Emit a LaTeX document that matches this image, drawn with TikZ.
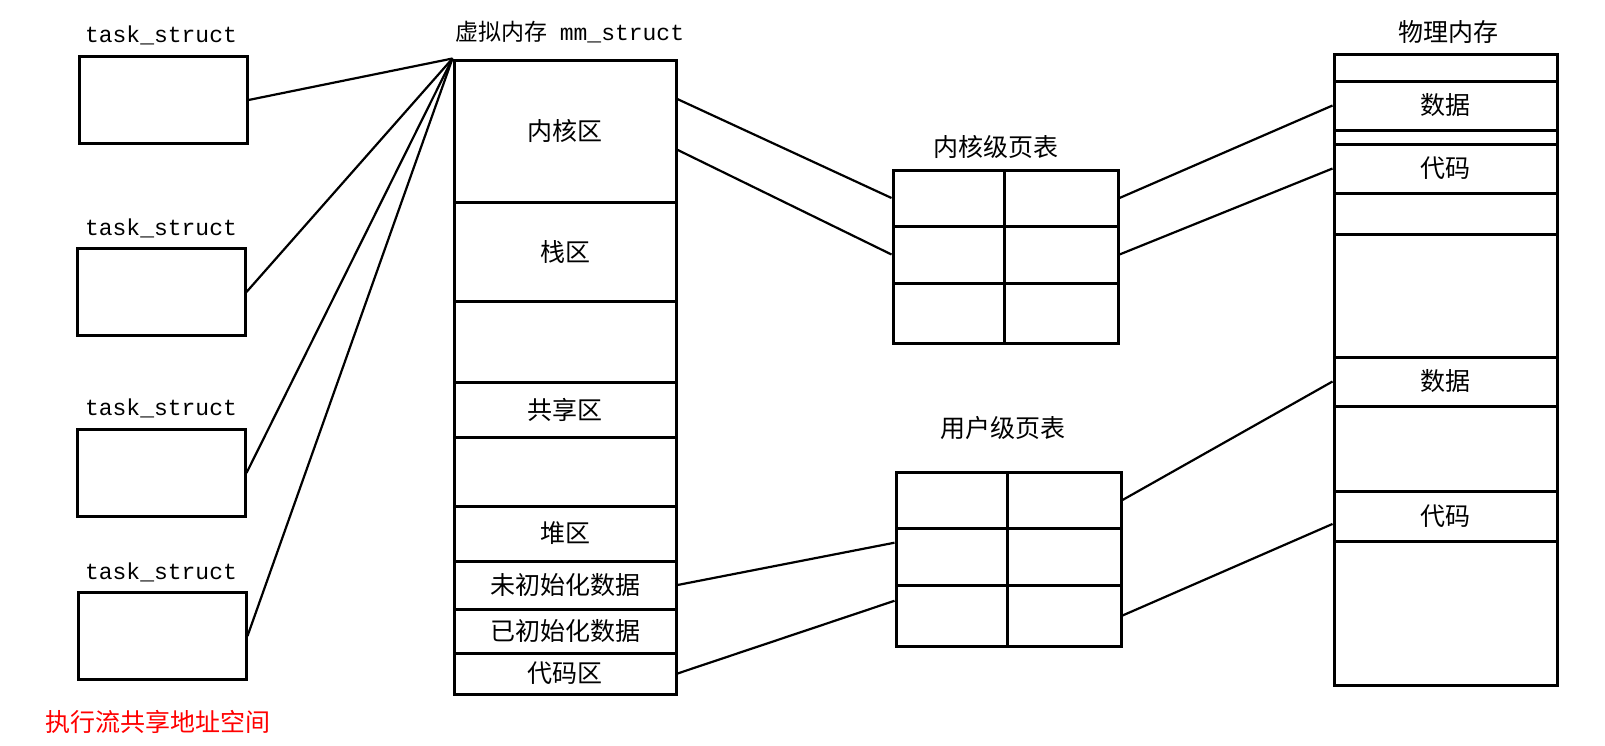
\documentclass[tikz,border=0pt]{standalone}
\usepackage{fontspec}
\setmonofont{Liberation Mono}
\newfontfamily\cjk{Noto Sans CJK SC}
\usepackage{tikz}
\usetikzlibrary{calc}
\newcommand{\tsname}{task\_struct}

\tikzset{
  cell/.style={draw, line width=3pt, inner sep=0pt, font=\cjk\fontsize{25}{25}\selectfont},
  vcell/.style={cell, minimum width=222pt},
  pcell/.style={cell, minimum width=223pt},
  tbox/.style={cell, minimum width=168pt, minimum height=87pt},
  ttl/.style={font=\fontsize{23}{23}\selectfont\ttfamily},
  head/.style={font=\cjk\fontsize{25}{25}\selectfont}
}

\begin{document}
\begin{tikzpicture}[x=1pt, y=-1pt]
  \useasboundingbox (0,0) rectangle (1605,745);

  % task_struct boxes
  \node[ttl] (l1) at (161,35) {\tsname};
  \node[tbox] (t1) at (163,100) {};
  \node[ttl] (l2) at (161,228) {\tsname};
  \node[tbox] (t2) at (161,292) {};
  \node[ttl] (l3) at (161,408) {\tsname};
  \node[tbox] (t3) at (161,473) {};
  \node[ttl] (l4) at (161,572) {\tsname};
  \node[tbox] (t4) at (162,636) {};
  \node[head, text=red] (note) at (158,722) {执行流共享地址空间};

  % virtual memory
  \node[font=\fontsize{23}{23}\selectfont] (vt) at (570,32) {{\cjk 虚拟内存}\hspace{12pt}{\ttfamily mm\_struct}};
  \node[vcell, minimum height=142pt] (va1) at (565,131) {内核区};
  \node[vcell, minimum height=99pt] (va2) at (565,251.5) {栈区};
  \node[vcell, minimum height=81pt] (va3) at (565,341.5) {};
  \node[vcell, minimum height=55pt] (va4) at (565,409.5) {共享区};
  \node[vcell, minimum height=69pt] (va5) at (565,471.5) {};
  \node[vcell, minimum height=55pt] (va6) at (565,533.5) {堆区};
  \node[vcell, minimum height=48pt] (va7) at (565,585) {未初始化数据};
  \node[vcell, minimum height=44pt] (va8) at (565,631) {已初始化数据};
  \node[vcell, minimum height=41pt] (va9) at (565,673.5) {代码区};

  % kernel page table
  \node[head] (kt) at (996,147) {内核级页表};
  \node[cell, minimum width=111pt, minimum height=56pt] (k11) at (948.5,198) {};
  \node[cell, minimum width=114pt, minimum height=56pt] (k12) at (1061,198) {};
  \node[cell, minimum width=111pt, minimum height=57pt] (k21) at (948.5,254.5) {};
  \node[cell, minimum width=114pt, minimum height=57pt] (k22) at (1061,254.5) {};
  \node[cell, minimum width=111pt, minimum height=60pt] (k31) at (948.5,313) {};
  \node[cell, minimum width=114pt, minimum height=60pt] (k32) at (1061,313) {};

  % user page table
  \node[head] (ut) at (1003,428) {用户级页表};
  \node[cell, minimum width=111pt, minimum height=56pt] (u11) at (951.5,500) {};
  \node[cell, minimum width=114pt, minimum height=56pt] (u12) at (1064,500) {};
  \node[cell, minimum width=111pt, minimum height=57pt] (u21) at (951.5,556.5) {};
  \node[cell, minimum width=114pt, minimum height=57pt] (u22) at (1064,556.5) {};
  \node[cell, minimum width=111pt, minimum height=61pt] (u31) at (951.5,615.5) {};
  \node[cell, minimum width=114pt, minimum height=61pt] (u32) at (1064,615.5) {};

  % physical memory
  \node[head] (pt) at (1448,32) {物理内存};
  \node[pcell, minimum height=27pt] (p1) at (1445.5,67.5) {};
  \node[pcell, minimum height=49pt] (p2) at (1445.5,105.5) {数据};
  \node[pcell, minimum height=14pt] (p3) at (1445.5,137) {};
  \node[pcell, minimum height=49pt] (p4) at (1445.5,168.5) {代码};
  \node[pcell, minimum height=41pt] (p5) at (1445.5,213.5) {};
  \node[pcell, minimum height=123pt] (p6) at (1445.5,295.5) {};
  \node[pcell, minimum height=49pt] (p7) at (1445.5,381.5) {数据};
  \node[pcell, minimum height=85pt] (p8) at (1445.5,448.5) {};
  \node[pcell, minimum height=50pt] (p9) at (1445.5,516) {代码};
  \node[pcell, minimum height=144pt] (p10) at (1445.5,613) {};

  \path[black, line width=2.2pt]
  (t1.east) edge (va1.north west)
  (t2.east) edge (va1.north west)
  (t3.east) edge (va1.north west)
  (t4.east) edge (va1.north west)
  ($(va1.north east)!0.28!(va1.south east)$) edge (k11.west)
  ($(va1.north east)!0.63!(va1.south east)$) edge (k21.west)
  (k12.east) edge (p2.west)
  (k22.east) edge (p4.west)
  (va7.east) edge ($(u21.north west)!0.27!(u21.south west)$)
  (va9.east) edge ($(u31.north west)!0.27!(u31.south west)$)
  (u12.east) edge (p7.west)
  (u32.east) edge ($(p9.north west)!0.65!(p9.south west)$);
\end{tikzpicture}
\end{document}
